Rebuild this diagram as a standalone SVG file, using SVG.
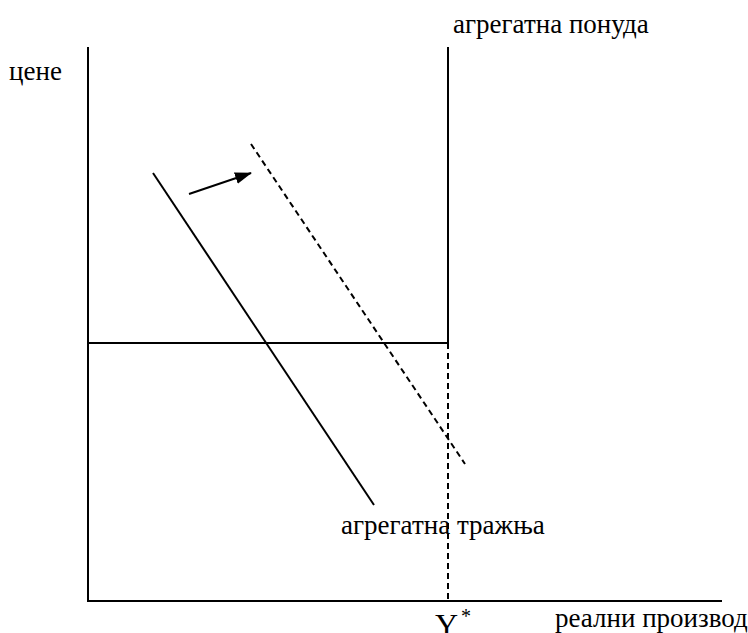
<svg xmlns="http://www.w3.org/2000/svg" width="748" height="633" viewBox="0 0 748 633">
<style>
.t{font-family:"Liberation Serif","Times New Roman",serif;font-size:27px;fill:#000}
.l{stroke:#000;stroke-width:2;fill:none}
.d{stroke:#000;stroke-width:2;fill:none;stroke-dasharray:6,4}
</style>
<defs>
<marker id="ah" viewBox="0 0 17 12" refX="16" refY="6" markerWidth="17" markerHeight="12" orient="auto" markerUnits="userSpaceOnUse">
<path d="M0,0 L17,6 L0,12 z" fill="#000"/>
</marker>
</defs>
<rect width="748" height="633" fill="#fff"/>
<g id="connectors">
<line id="y-axis" class="l" x1="88" y1="47" x2="88" y2="601"/>
<line id="x-axis" class="l" x1="87" y1="601" x2="722" y2="601"/>
<line id="supply" class="l" x1="448" y1="47" x2="448" y2="343"/>
<line id="price" class="l" x1="88" y1="343" x2="448" y2="343"/>
<line id="ystar" class="d" x1="448" y1="343" x2="448" y2="601"/>
<line id="demand" class="l" x1="153" y1="173" x2="374" y2="505"/>
<line id="demand2" class="d" x1="251" y1="144" x2="465" y2="464"/>
<line id="shift" class="l" x1="189" y1="194" x2="251" y2="173" marker-end="url(#ah)"/>
</g>
<g id="label-cene"><text class="t" x="9" y="80">цене</text></g>
<g id="label-ponuda"><text class="t" x="453" y="33">агрегатна понуда</text></g>
<g id="label-traznja"><text class="t" x="341" y="534">агрегатна тражња</text></g>
<g id="label-proizvod"><text class="t" x="555" y="627">реални производ</text></g>
<g id="label-ystar"><text class="t" x="435" y="636" style="font-size:32px">Y<tspan dx="3" dy="-13" style="font-size:20px">*</tspan></text></g>
</svg>
